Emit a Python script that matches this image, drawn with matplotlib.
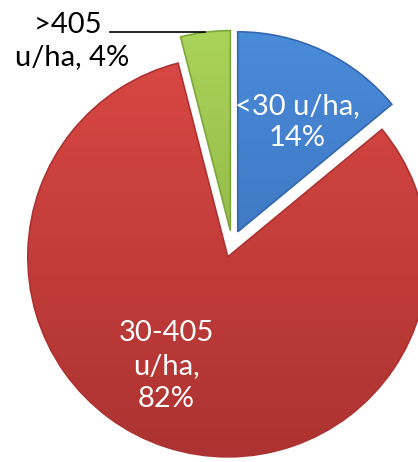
import numpy as np
import matplotlib.pyplot as plt
from matplotlib.colors import LinearSegmentedColormap

# slice data (clockwise from 12 o'clock)
categories = ["<30 u/ha", "30-405 u/ha", ">405 u/ha"]
shares = [14, 82, 4]
labels = ["<30 u/ha,\n14%", "30-405\nu/ha,\n82%", ">405 \nu/ha, 4%"]
top_colors = ["#4A8BDA", "#D84743", "#AAD35A"]
bottom_colors = ["#3568AE", "#AC3331", "#7FA63A"]

plt.rcParams['font.family'] = ['Lato', 'DejaVu Sans']

fig = plt.figure(figsize=(4.18, 4.62), dpi=100)
ax = fig.add_axes([0, 0, 1, 1])

# explode is in data units when a radius is given
wedges, _ = ax.pie(shares, startangle=90, counterclock=False,
                   center=(232, 218), radius=200,
                   explode=[13.5] * 3, frame=True)

# gradient fill clipped to each wedge, a rough take on the bevelled look
for w, c1, c2 in zip(wedges, top_colors, bottom_colors):
    w.set_facecolor('none')
    w.set_edgecolor(c2)
    w.set_linewidth(1.2)
    cx, cy = w.center
    r = w.r
    cmap = LinearSegmentedColormap.from_list('g', [c2, c1])
    grad = np.linspace(0, 1, 256).reshape(-1, 1)
    im = ax.imshow(grad, cmap=cmap, origin='lower', aspect='auto',
                   extent=(cx - r, cx + r, cy - r, cy + r), zorder=0.5)
    im.set_clip_path(w)
    w.set_zorder(1)
ax.set_xlim(0, 418)
ax.set_ylim(0, 462)
ax.set_aspect('equal')
ax.axis('off')

# labels inside
ax.text(297, 340, labels[0], ha='center', va='center', color='white',
        fontsize=21, linespacing=1.25, zorder=3)
ax.text(166, 96, labels[1], ha='center', va='center', color='white',
        fontsize=21, linespacing=1.35, zorder=3)

# outside label with leader line for the small slice
g = wedges[2]
ang = np.deg2rad((g.theta1 + g.theta2) / 2)
px = g.center[0] + g.r * np.cos(ang)
py = g.center[1] + g.r * np.sin(ang)
ax.text(72, 421, labels[2], ha='center', va='center', color='black',
        fontsize=21, linespacing=1.25, zorder=3)
ax.plot([110, px], [py, py], color='black', lw=1.2, zorder=3)

fig.savefig("out.png", dpi=100)
